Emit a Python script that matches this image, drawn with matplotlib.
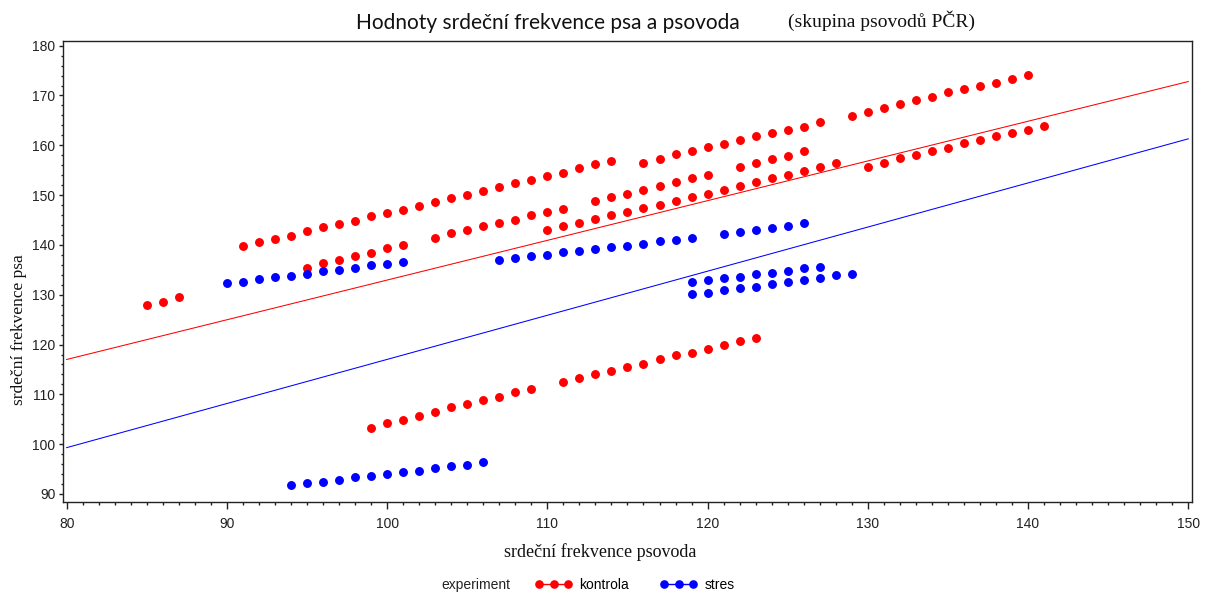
import matplotlib
matplotlib.use("Agg")
import matplotlib.pyplot as plt
from matplotlib.lines import Line2D
from matplotlib.ticker import MultipleLocator

# -------- Data --------
# kontrola (red) - groups of consecutive measurements
k1_x = [85, 86, 87]
k1_y = [127.9, 128.5, 129.5]
k2_x = [91, 92, 93, 94, 95, 96, 97, 98, 99, 100, 101, 102, 103, 104, 105, 106, 107, 108, 109, 110, 111, 112, 113, 114]
k2_y = [139.8, 140.5, 141.2, 141.8, 142.8, 143.5, 144.2, 144.9, 145.8, 146.5, 147.1, 147.9, 148.7, 149.4,
        150.1, 150.8, 151.7, 152.4, 153.1, 153.8, 154.5, 155.4, 156.2, 156.9]
k3_x = [116, 117, 118, 119, 120, 121, 122, 123, 124, 125, 126, 127]
k3_y = [156.4, 157.2, 158.2, 158.9, 159.6, 160.3, 161.0, 161.9, 162.5, 163.1, 163.7, 164.6]
k4_x = [129, 130, 131, 132, 133, 134, 135, 136, 137, 138, 139, 140]
k4_y = [165.9, 166.7, 167.5, 168.3, 169.0, 169.6, 170.6, 171.3, 172.0, 172.6, 173.3, 174.2]
k5_x = [95, 96, 97, 98, 99, 100, 101]
k5_y = [135.4, 136.4, 137.0, 137.7, 138.4, 139.3, 140.0]
k6_x = [103, 104, 105, 106, 107, 108, 109, 110, 111]
k6_y = [141.4, 142.3, 143.0, 143.7, 144.4, 145.1, 146.0, 146.7, 147.3]
k7_x = [110, 111, 112, 113, 114, 115, 116, 117, 118, 119, 120, 121, 122, 123, 124, 125, 126, 127, 128]
k7_y = [143.0, 143.7, 144.4, 145.3, 146.0, 146.7, 147.4, 148.1, 148.9, 149.7, 150.3, 151.0, 151.9,
        152.7, 153.4, 154.1, 154.9, 155.7, 156.4]
k8_x = [113, 114, 115, 116, 117, 118, 119, 120]
k8_y = [148.9, 149.7, 150.3, 151.0, 151.9, 152.6, 153.4, 154.0]
k9_x = [122, 123, 124, 125, 126]
k9_y = [155.6, 156.4, 157.2, 157.9, 158.9]
k10_x = [130, 131, 132, 133, 134, 135, 136, 137, 138, 139, 140, 141]
k10_y = [155.6, 156.4, 157.4, 158.1, 158.9, 159.5, 160.4, 161.1, 161.8, 162.5, 163.1, 163.9]
k11_x = [99, 100, 101, 102, 103, 104, 105, 106, 107, 108, 109]
k11_y = [103.3, 104.2, 104.9, 105.7, 106.4, 107.4, 108.0, 108.8, 109.5, 110.4, 111.1]
k12_x = [111, 112, 113, 114, 115, 116, 117, 118, 119, 120, 121, 122, 123]
k12_y = [112.4, 113.3, 114.1, 114.7, 115.4, 116.1, 117.0, 117.8, 118.4, 119.1, 120.0, 120.7, 121.4]

# stres (blue)
s1_x = [90, 91, 92, 93, 94, 95, 96, 97, 98, 99, 100, 101]
s1_y = [132.4, 132.6, 133.2, 133.6, 133.8, 134.2, 134.8, 135.0, 135.4, 135.9, 136.1, 136.6]
s2_x = [107, 108, 109, 110, 111, 112, 113, 114, 115, 116, 117, 118, 119]
s2_y = [136.9, 137.3, 137.7, 137.9, 138.6, 138.7, 139.2, 139.6, 139.7, 140.2, 140.7, 140.9, 141.4]
s3_x = [121, 122, 123, 124, 125, 126]
s3_y = [142.1, 142.6, 143.0, 143.3, 143.7, 144.3]
s4_x = [119, 120, 121, 122, 123, 124, 125, 126, 127]
s4_y = [132.6, 133.0, 133.4, 133.6, 134.1, 134.4, 134.8, 135.3, 135.5]
s5_x = [119, 120, 121, 122, 123, 124, 125, 126, 127, 128, 129]
s5_y = [130.1, 130.3, 130.9, 131.3, 131.6, 132.1, 132.6, 132.9, 133.4, 133.9, 134.1]
s6_x = [94, 95, 96, 97, 98, 99, 100, 101, 102, 103, 104, 105, 106]
s6_y = [91.8, 92.2, 92.5, 92.9, 93.4, 93.6, 94.1, 94.5, 94.7, 95.2, 95.7, 95.9, 96.4]

kontrola_x = k1_x + k2_x + k3_x + k4_x + k5_x + k6_x + k7_x + k8_x + k9_x + k10_x + k11_x + k12_x
kontrola_y = k1_y + k2_y + k3_y + k4_y + k5_y + k6_y + k7_y + k8_y + k9_y + k10_y + k11_y + k12_y
stres_x = s1_x + s2_x + s3_x + s4_x + s5_x + s6_x
stres_y = s1_y + s2_y + s3_y + s4_y + s5_y + s6_y

# fitted lines (end points)
fit_x = [80, 150]
fit_kontrola = [117.0, 172.8]
fit_stres = [99.3, 161.3]

RED = "#ff0000"
BLUE = "#0000ff"

# -------- Figure --------
fig = plt.figure(figsize=(12.13, 5.94), dpi=100)
ax = fig.add_axes([0.0519, 0.1554, 0.9305, 0.7761])

ax.plot(fit_x, fit_kontrola, color=RED, lw=0.75, zorder=2)
ax.plot(fit_x, fit_stres, color=BLUE, lw=0.75, zorder=2)
ax.plot(kontrola_x, kontrola_y, "o", color=RED, ms=5.4, mec=RED, zorder=3)
ax.plot(stres_x, stres_y, "o", color=BLUE, ms=5.4, mec=BLUE, zorder=3)

ax.set_xlim(79.77, 150.21)
ax.set_ylim(88.45, 181.0)
ax.xaxis.set_major_locator(MultipleLocator(10))
ax.xaxis.set_minor_locator(MultipleLocator(1))
ax.yaxis.set_major_locator(MultipleLocator(10))
ax.yaxis.set_minor_locator(MultipleLocator(2))
ax.tick_params(which="both", width=1, colors="#222222", labelsize=10)
ax.tick_params(axis="x", which="major", length=4.8, pad=6.5)
ax.tick_params(axis="x", which="minor", length=2.2)
ax.tick_params(axis="y", which="major", length=3.0, pad=2.5)
ax.tick_params(axis="y", which="minor", length=1.7)
for lab in ax.get_xticklabels() + ax.get_yticklabels():
    lab.set_family("Liberation Sans")
for sp in ax.spines.values():
    sp.set_color("#222222")
    sp.set_linewidth(1)

# -------- Texts --------
fig.text(548 / 1213, 1 - 23 / 594, "Hodnoty srdeční frekvence psa a psovoda",
         family="Lato", fontsize=15, ha="center", va="center", color="#111111")
fig.text(882 / 1213, 1 - 21 / 594, "(skupina psovodů PČR)",
         family="Liberation Serif", fontsize=14, ha="center", va="center", color="#111111")
fig.text(600 / 1213, 1 - 552 / 594, "srdeční frekvence psovoda",
         family="Liberation Serif", fontsize=13, ha="center", va="center", color="#111111")
fig.text(19 / 1213, 1 - 330 / 594, "srdeční frekvence psa", rotation=90,
         family="Liberation Serif", fontsize=12.5, ha="center", va="center", color="#111111")

# -------- Legend --------
fig.text(476 / 1213, 1 - 585 / 594, "experiment", family="Liberation Sans",
         fontsize=10, ha="center", va="center", color="#222222")
handles = [Line2D([], [], color=RED, marker="o", ms=5.2, lw=1),
           Line2D([], [], color=BLUE, marker="o", ms=5.2, lw=1)]
fig.legend(handles, ["kontrola", "stres"], loc="center left",
           bbox_to_anchor=(535 / 1213, 1 - 585 / 594), ncol=2, numpoints=3,
           frameon=False, borderpad=0, borderaxespad=0, handlelength=2.7,
           handletextpad=0.5, columnspacing=2.2,
           prop={"family": "Liberation Sans", "size": 10})

fig.savefig("out.png", dpi=100)
